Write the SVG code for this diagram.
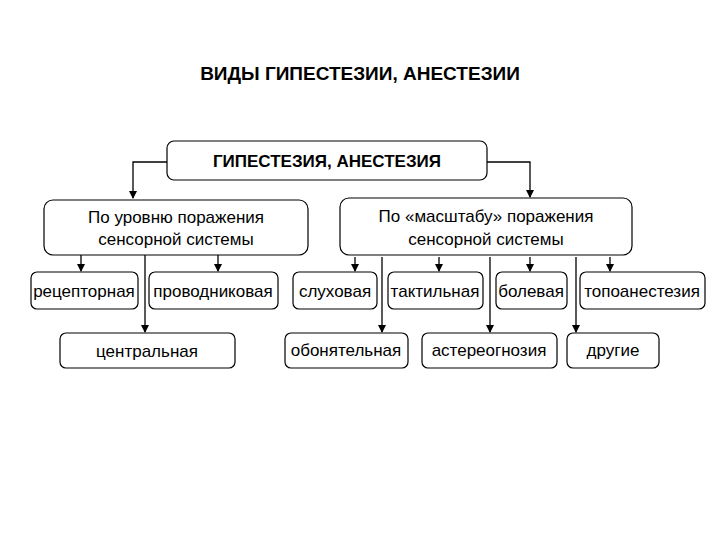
<svg xmlns="http://www.w3.org/2000/svg" width="720" height="540" viewBox="0 0 720 540">
<style>
rect{fill:#fff;stroke:#000;stroke-width:1.2}
text{font-family:"Liberation Sans",Arial,sans-serif;font-size:17px;text-anchor:middle;fill:#000}
.b{font-weight:bold}
#c path{fill:none;stroke:#000;stroke-width:1.3;marker-end:url(#a)}
</style>
<defs><marker id="a" markerWidth="8" markerHeight="8" refX="7" refY="4" orient="auto" markerUnits="userSpaceOnUse"><path d="M0,0L8,4L0,8z" fill="#000"/></marker></defs>
<rect width="720" height="540" style="fill:#fff;stroke:none"/>
<text class="b" x="360" y="80" style="font-size:19px">ВИДЫ ГИПЕСТЕЗИИ, АНЕСТЕЗИИ</text>
<g id="c">
<path d="M167,162H133V198"/>
<path d="M487,162H530V197"/>
<path d="M81,255V271"/>
<path d="M218,255V271"/>
<path d="M145,255V332"/>
<path d="M355,257V271"/>
<path d="M439,257V271"/>
<path d="M530,257V271"/>
<path d="M610,257V271"/>
<path d="M382,257V332"/>
<path d="M490,257V332"/>
<path d="M576,257V332"/>
</g>
<g id="top"><rect x="167" y="141" width="320" height="39" rx="7"/><text class="b" x="327" y="167">ГИПЕСТЕЗИЯ, АНЕСТЕЗИЯ</text></g>
<g id="lvl"><rect x="44" y="200" width="264" height="55" rx="9"/><text x="176" y="223">По уровню поражения</text><text x="176" y="245">сенсорной системы</text></g>
<g id="scale"><rect x="340" y="198" width="292" height="57" rx="9"/><text x="486" y="222">По «масштабу» поражения</text><text x="486" y="245">сенсорной системы</text></g>
<g id="n1"><rect x="31" y="272" width="107" height="37" rx="6"/><text x="84" y="297">рецепторная</text></g>
<g id="n2"><rect x="149" y="272" width="129" height="37" rx="6"/><text x="213" y="297">проводниковая</text></g>
<g id="n3"><rect x="293" y="272" width="84" height="37" rx="6"/><text x="335" y="297">слуховая</text></g>
<g id="n4"><rect x="388" y="272" width="95" height="37" rx="6"/><text x="435" y="297">тактильная</text></g>
<g id="n5"><rect x="496" y="272" width="71" height="37" rx="6"/><text x="531" y="297">болевая</text></g>
<g id="n6"><rect x="580" y="272" width="125" height="37" rx="6"/><text x="642" y="297">топоанестезия</text></g>
<g id="n7"><rect x="60" y="333" width="175" height="35" rx="6"/><text x="147" y="357">центральная</text></g>
<g id="n8"><rect x="285" y="333" width="123" height="35" rx="6"/><text x="346" y="356">обонятельная</text></g>
<g id="n9"><rect x="422" y="333" width="135" height="35" rx="6"/><text x="489" y="356">астереогнозия</text></g>
<g id="n10"><rect x="567" y="333" width="92" height="35" rx="6"/><text x="613" y="356">другие</text></g>
</svg>
